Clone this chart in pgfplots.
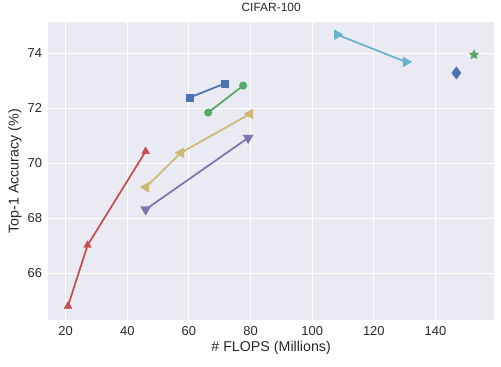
\documentclass[border=0pt]{standalone}
\usepackage{fontspec}
\setmainfont{Liberation Sans}
\usepackage{pgfplots}
\pgfplotsset{compat=1.18}
\usetikzlibrary{calc}
\definecolor{sbblue}{HTML}{4C72B0}
\definecolor{sbgreen}{HTML}{55A868}
\definecolor{sbred}{HTML}{C44E52}
\definecolor{sbpurple}{HTML}{8172B2}
\definecolor{sbyellow}{HTML}{CCB974}
\definecolor{sbcyan}{HTML}{64B5CD}
\definecolor{sbbg}{HTML}{EAEAF2}
\definecolor{txt}{HTML}{262626}
% filled five-point star
\pgfdeclareplotmark{fstar}{%
  \pgfpathmoveto{\pgfpointpolar{90}{\pgfplotmarksize}}%
  \pgfpathlineto{\pgfpointpolar{126}{0.45\pgfplotmarksize}}%
  \pgfpathlineto{\pgfpointpolar{162}{\pgfplotmarksize}}%
  \pgfpathlineto{\pgfpointpolar{198}{0.45\pgfplotmarksize}}%
  \pgfpathlineto{\pgfpointpolar{234}{\pgfplotmarksize}}%
  \pgfpathlineto{\pgfpointpolar{270}{0.45\pgfplotmarksize}}%
  \pgfpathlineto{\pgfpointpolar{306}{\pgfplotmarksize}}%
  \pgfpathlineto{\pgfpointpolar{342}{0.45\pgfplotmarksize}}%
  \pgfpathlineto{\pgfpointpolar{18}{\pgfplotmarksize}}%
  \pgfpathlineto{\pgfpointpolar{54}{0.45\pgfplotmarksize}}%
  \pgfpathclose\pgfusepathqfillstroke}
\begin{document}
\begin{tikzpicture}
\begin{axis}[
    scale only axis, width=446bp, height=298bp,
    xmin=14.35, xmax=159, ymin=64.3, ymax=75.12,
    xtick={20,40,...,140}, ytick={66,68,...,74},
    axis background/.style={fill=sbbg},
    axis line style={draw=none},
    major tick length=0pt,
    grid=major, grid style={white, line width=1pt},
    tick label style={font=\fontsize{13}{15}\selectfont, text=txt, inner sep=0pt},
    xticklabel shift=6pt, yticklabel shift=6pt,
    /pgf/number format/assume math mode=true,
    title={CIFAR-100},
    title style={font=\fontsize{12}{14}\selectfont, text=txt, inner sep=0pt, yshift=5pt},
    xlabel={\# FLOPS (Millions)},
    ylabel={Top-1 Accuracy (\%)},
    label style={font=\fontsize{14.3}{16}\selectfont, text=txt, inner sep=0pt},
    xlabel style={yshift=-6pt},
    ylabel style={yshift=6pt},
    every axis plot/.append style={line width=1.75pt, mark size=4.5pt,
        mark options={solid, line width=0.4pt}},
]
\coordinate (bl) at (rel axis cs:0,0);
\coordinate (tr) at (rel axis cs:1,1);
\addplot[sbblue, mark=square*, mark size=3.6pt] coordinates {(60.35,72.39) (71.7,72.90)};
\addplot[sbgreen, mark=*, mark size=3.8pt] coordinates {(66.25,71.84) (77.6,72.82)};
\addplot[sbred, mark=triangle*] coordinates {(20.75,64.81) (27.1,67.02) (45.95,70.43)};
\addplot[sbpurple, mark=triangle*, mark options={rotate=180}] coordinates {(45.95,68.32) (79.2,70.92)};
\addplot[sbyellow, mark=triangle*, mark options={rotate=90}] coordinates {(46.05,69.13) (57.4,70.38) (79.8,71.79)};
\addplot[sbcyan, mark=triangle*, mark options={rotate=-90}] coordinates {(108.1,74.67) (130.4,73.68)};
\addplot[sbblue, only marks, mark=diamond*, mark size=6.2pt] coordinates {(146.8,73.28)};
\addplot[sbgreen, only marks, mark=fstar, mark size=5pt] coordinates {(152.5,73.94)};
\end{axis}
\pgfresetboundingbox
\path ($(bl)+(-48.3bp,-46.3bp)$) rectangle ($(tr)+(7bp,22.3bp)$);
\end{tikzpicture}
\end{document}
